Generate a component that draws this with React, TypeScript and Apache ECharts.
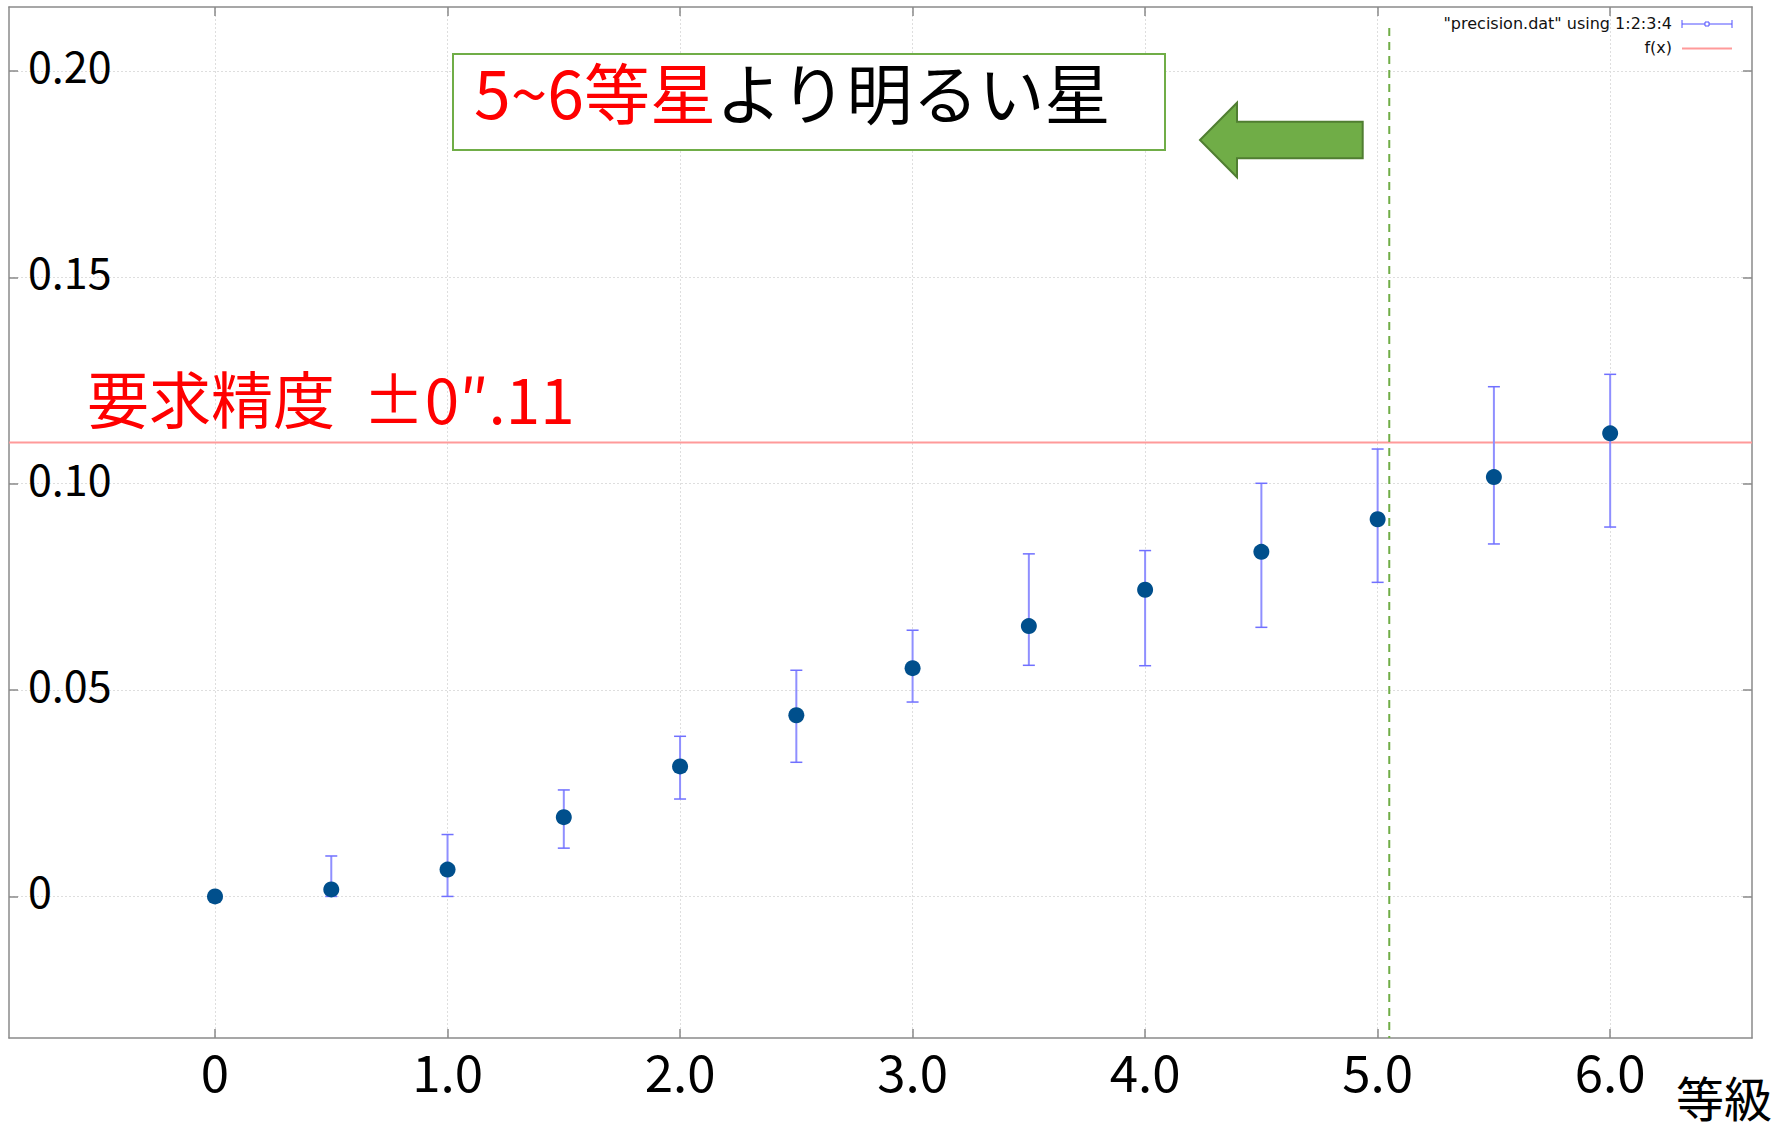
import React, { useEffect, useRef } from "react";
import * as echarts from "echarts";

// ---- data ----
const magnitudes = [0, 0.5, 1.0, 1.5, 2.0, 2.5, 3.0, 3.5, 4.0, 4.5, 5.0, 5.5, 6.0];
const precision = [0.0, 0.0017, 0.0065, 0.0192, 0.0315, 0.0439, 0.0553, 0.0655, 0.0743, 0.0835, 0.0914, 0.1016, 0.1122];
const errLow = [0.0, 0.0, 0.0, 0.0117, 0.0236, 0.0325, 0.0471, 0.056, 0.0559, 0.0652, 0.0761, 0.0854, 0.0895];
const errHigh = [0.0, 0.0098, 0.015, 0.0258, 0.0388, 0.0548, 0.0645, 0.083, 0.0838, 0.1001, 0.1084, 0.1235, 0.1265];
const requiredPrecision = 0.11;
const limitMagnitude = 5.05;
const xTicks = [0, 1, 2, 3, 4, 5, 6];
const xTickLabels = ["0", "1.0", "2.0", "3.0", "4.0", "5.0", "6.0"];
const yTicks = [0, 0.05, 0.1, 0.15, 0.2];
const yTickLabels = ["0", "0.05", "0.10", "0.15", "0.20"];

const X_MIN = -0.886;
const X_MAX = 6.61;
const Y_MIN = -0.0343;
const Y_MAX = 0.2155;

const FONT = "Noto Sans CJK JP";
const FRAME = "#8a8a8a";

export default function App() {
  const ref = useRef<HTMLDivElement>(null);

  useEffect(() => {
    if (!ref.current) return;
    const chart = echarts.init(ref.current, undefined, { renderer: "svg" });

    const errData = magnitudes.map((m, i) => [m, errLow[i], errHigh[i]]);
    const ptData = magnitudes.map((m, i) => [m, precision[i]]);

    const option: any = {
      animation: false,
      backgroundColor: "#ffffff",
      grid: { left: 9, right: 36, top: 7, bottom: 90, containLabel: false },
      xAxis: [
        {
          type: "value",
          min: X_MIN,
          max: X_MAX,
          position: "bottom",
          axisLine: { show: true, onZero: false, lineStyle: { color: FRAME, width: 1.5 } },
          axisTick: { show: true, inside: true, length: 9, customValues: xTicks, lineStyle: { color: FRAME, width: 1.5 } },
          axisLabel: {
            show: true,
            customValues: xTicks,
            margin: 6,
            color: "#000",
            fontSize: 51,
            fontFamily: FONT,
            formatter: (v: number) => xTickLabels[xTicks.indexOf(Math.round(v))] ?? "",
          },
          splitLine: { show: true, lineStyle: { color: "#dedede", width: 1, type: [2, 2] } },
        },
        {
          type: "value",
          min: X_MIN,
          max: X_MAX,
          position: "top",
          axisLine: { show: true, onZero: false, lineStyle: { color: FRAME, width: 1.5 } },
          axisTick: { show: true, inside: true, length: 9, customValues: xTicks, lineStyle: { color: FRAME, width: 1.5 } },
          axisLabel: { show: false },
          splitLine: { show: false },
        },
      ],
      yAxis: [
        {
          type: "value",
          min: Y_MIN,
          max: Y_MAX,
          position: "left",
          axisLine: { show: true, onZero: false, lineStyle: { color: FRAME, width: 1.5 } },
          axisTick: { show: true, inside: true, length: 9, customValues: yTicks, lineStyle: { color: FRAME, width: 1.5 } },
          axisLabel: {
            show: true,
            inside: true,
            customValues: yTicks,
            margin: 19,
            color: "#000",
            fontSize: 43,
            fontFamily: FONT,
            verticalAlign: "bottom",
            lineHeight: 14,
            formatter: (v: number) => {
              const idx = yTicks.findIndex((t) => Math.abs(t - v) < 1e-6);
              return idx >= 0 ? yTickLabels[idx] : "";
            },
          },
          splitLine: { show: true, lineStyle: { color: "#dedede", width: 1, type: [2, 2] } },
        },
        {
          type: "value",
          min: Y_MIN,
          max: Y_MAX,
          position: "right",
          axisLine: { show: true, onZero: false, lineStyle: { color: FRAME, width: 1.5 } },
          axisTick: { show: true, inside: true, length: 9, customValues: yTicks, lineStyle: { color: FRAME, width: 1.5 } },
          axisLabel: { show: false },
          splitLine: { show: false },
        },
      ],
      series: [
        {
          name: "f(x)",
          type: "line",
          xAxisIndex: 0,
          yAxisIndex: 0,
          data: [
            [X_MIN, requiredPrecision],
            [X_MAX, requiredPrecision],
          ],
          symbol: "none",
          lineStyle: { color: "#ff9a9a", width: 2 },
          z: 2,
        },
        {
          name: "limit",
          type: "line",
          xAxisIndex: 0,
          yAxisIndex: 0,
          data: [
            [limitMagnitude, 0.2104],
            [limitMagnitude, Y_MIN],
          ],
          symbol: "none",
          lineStyle: { color: "#70ad47", width: 2, type: [8, 6] },
          z: 2,
        },
        {
          name: "errors",
          type: "custom",
          xAxisIndex: 0,
          yAxisIndex: 0,
          data: errData,
          renderItem: (params: any, api: any) => {
            const x = api.value(0);
            const lo = api.coord([x, api.value(1)]);
            const hi = api.coord([x, api.value(2)]);
            const hw = 6;
            return {
              type: "group",
              children: [
                {
                  type: "line",
                  shape: { x1: lo[0], y1: lo[1], x2: hi[0], y2: hi[1] },
                  style: { stroke: "#8f8fff", lineWidth: 2 },
                },
                {
                  type: "line",
                  shape: { x1: hi[0] - hw, y1: hi[1], x2: hi[0] + hw, y2: hi[1] },
                  style: { stroke: "#7070ff", lineWidth: 1.5 },
                },
                {
                  type: "line",
                  shape: { x1: lo[0] - hw, y1: lo[1], x2: lo[0] + hw, y2: lo[1] },
                  style: { stroke: "#7070ff", lineWidth: 1.5 },
                },
              ],
            };
          },
          z: 3,
        },
        {
          name: "precision",
          type: "scatter",
          xAxisIndex: 0,
          yAxisIndex: 0,
          data: ptData,
          symbol: "circle",
          symbolSize: 16,
          itemStyle: { color: "#004f8c", opacity: 1 },
          z: 4,
        },
      ],
      graphic: [
        // legend
        {
          type: "text",
          x: 1672,
          y: 23,
          style: {
            text: '"precision.dat" using 1:2:3:4',
            font: '16px "DejaVu Sans"',
            fill: "#111",
            textAlign: "right",
            textVerticalAlign: "middle",
          },
        },
        { type: "line", shape: { x1: 1682, y1: 24, x2: 1732, y2: 24 }, style: { stroke: "#5050ff", lineWidth: 1 } },
        { type: "line", shape: { x1: 1682, y1: 20, x2: 1682, y2: 28 }, style: { stroke: "#5050ff", lineWidth: 1 } },
        { type: "line", shape: { x1: 1732, y1: 20, x2: 1732, y2: 28 }, style: { stroke: "#5050ff", lineWidth: 1 } },
        { type: "rect", shape: { x: 1705, y: 22, width: 4, height: 4 }, style: { stroke: "#5050ff", fill: "#fff", lineWidth: 1 } },
        {
          type: "text",
          x: 1672,
          y: 47,
          style: {
            text: "f(x)",
            font: '16px "DejaVu Sans"',
            fill: "#111",
            textAlign: "right",
            textVerticalAlign: "middle",
          },
        },
        { type: "line", shape: { x1: 1682, y1: 48.5, x2: 1732, y2: 48.5 }, style: { stroke: "#ff9a9a", lineWidth: 2 } },
        // required precision label
        {
          type: "text",
          x: 87,
          y: 397,
          style: {
            text: "要求精度  ±0″.11",
            font: `62px "${FONT}"`,
            fill: "#ff0000",
            textAlign: "left",
            textVerticalAlign: "middle",
          },
          z: 10,
        },
        // annotation box
        {
          type: "rect",
          shape: { x: 453, y: 54, width: 712, height: 96 },
          style: { fill: "#ffffff", stroke: "#70ad47", lineWidth: 2 },
          z: 10,
        },
        {
          type: "text",
          x: 474,
          y: 90,
          style: {
            text: "{r|5~6等星}{k|より明るい星}",
            textVerticalAlign: "middle",
            textAlign: "left",
            rich: {
              r: { font: `66px "${FONT}"`, fill: "#ff0000" },
              k: { font: `66px "${FONT}"`, fill: "#000000" },
            },
          },
          z: 11,
        },
        // arrow
        {
          type: "polygon",
          shape: {
            points: [
              [1200, 140],
              [1237, 102.7],
              [1237, 121.7],
              [1362.7, 121.7],
              [1362.7, 158.3],
              [1237, 158.3],
              [1237, 177.3],
            ],
          },
          style: { fill: "#70ad47", stroke: "#507e32", lineWidth: 2 },
          z: 10,
        },
        // axis name
        {
          type: "text",
          x: 1724,
          y: 1096,
          style: {
            text: "等級",
            font: `48px "${FONT}"`,
            fill: "#000",
            textAlign: "center",
            textVerticalAlign: "middle",
          },
        },
      ],
    };

    chart.setOption(option);
    return () => chart.dispose();
  }, []);

  return (
    <div
      ref={ref}
      style={{ position: "absolute", left: 0, top: 0, width: 1788, height: 1128, background: "#fff" }}
    />
  );
}
